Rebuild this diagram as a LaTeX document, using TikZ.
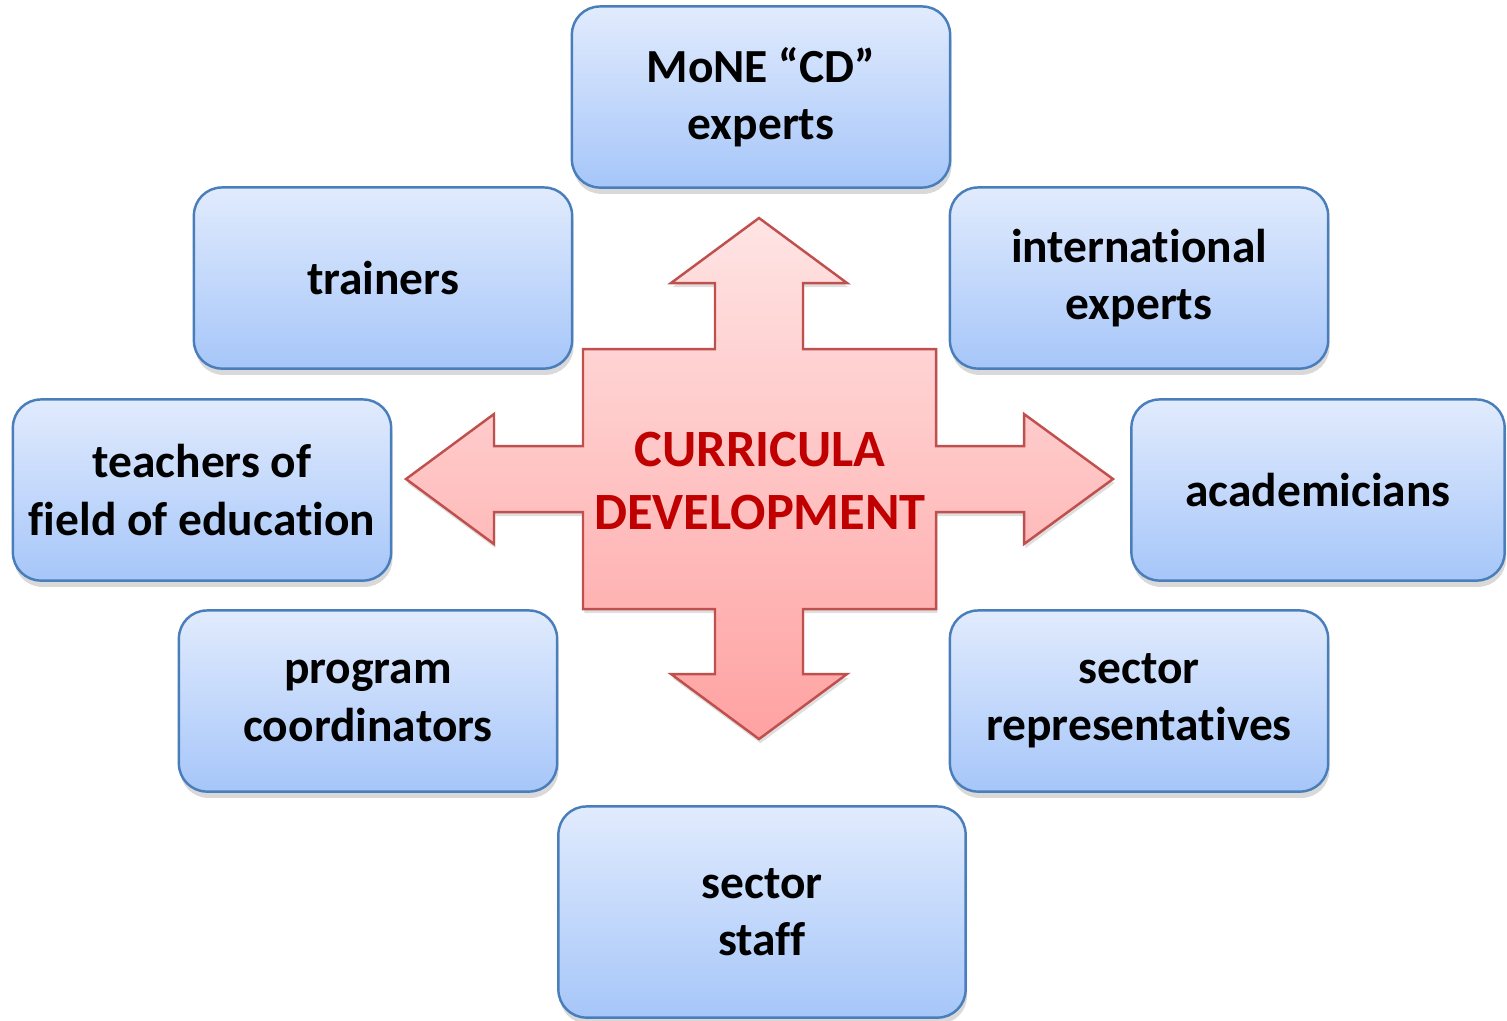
\documentclass[tikz,border=0pt]{standalone}
\usepackage{fontspec}
\setmainfont{Carlito}[Ligatures=NoCommon]
\usetikzlibrary{shadows}

\definecolor{boxtop}{HTML}{E1EBFD}
\definecolor{boxbot}{HTML}{A6C6F9}
\definecolor{boxline}{HTML}{4A7EBB}
\definecolor{arrtop}{HTML}{FFE4E4}
\definecolor{arrbot}{HTML}{FFA2A2}
\definecolor{arrline}{HTML}{C0504D}
\definecolor{cdred}{HTML}{C00000}

\begin{document}
\begin{tikzpicture}[
  x=0.01cm, y=-0.01cm,
  box/.style={draw=boxline, line width=0.7pt, rounded corners=0.28cm,
    top color=boxtop, bottom color=boxbot,
    minimum width=3.78cm, minimum height=1.81cm, inner sep=0pt,
    align=center, font=\fontsize{13.5}{16.3}\selectfont\bfseries,
    drop shadow={shadow xshift=0.4pt, shadow yshift=-1.8pt, opacity=0.3}},
  cross/.style={draw=arrline, line width=0.7pt, top color=arrtop, bottom color=arrbot,
    drop shadow={shadow xshift=0.4pt, shadow yshift=-1.2pt, opacity=0.25}},
  core/.style={align=center, text=cdred, font=\fontsize{14.9}{17.9}\selectfont\bfseries}
]
\useasboundingbox (0,0) rectangle (1507,1020);

% four-way arrow
\path[cross] (583,349) -- (715,349) -- (715,283) -- (671,283) -- (759,218) -- (847,283)
  -- (803,283) -- (803,349) -- (936,349) -- (936,446) -- (1024,446) -- (1024,414)
  -- (1113,479) -- (1024,544) -- (1024,512) -- (936,512) -- (936,609) -- (803,609)
  -- (803,674) -- (847,674) -- (759,739) -- (671,674) -- (715,674) -- (715,609)
  -- (583,609) -- (583,512) -- (494,512) -- (494,544) -- (406,479) -- (494,414)
  -- (494,446) -- (583,446) -- cycle;
\node[core] (cd) at (760,481) {CURRICULA\\DEVELOPMENT};

% participants
\node[box] (mone) at (761,97) {MoNE “CD”\\experts};
\node[box] (trainers) at (383,278) {trainers};
\node[box] (intl) at (1139,278) {international\\experts};
\node[box] (teachers) at (202,490) {teachers of\\field of education};
\node[box, minimum width=3.73cm] (acad) at (1318,490) {academicians};
\node[box] (coord) at (368,701) {program\\coordinators};
\node[box] (secrep) at (1139,701) {sector\\representatives};
\node[box, minimum width=4.07cm, minimum height=2.11cm] (staff) at (762,912) {sector\\staff};
\end{tikzpicture}
\end{document}
